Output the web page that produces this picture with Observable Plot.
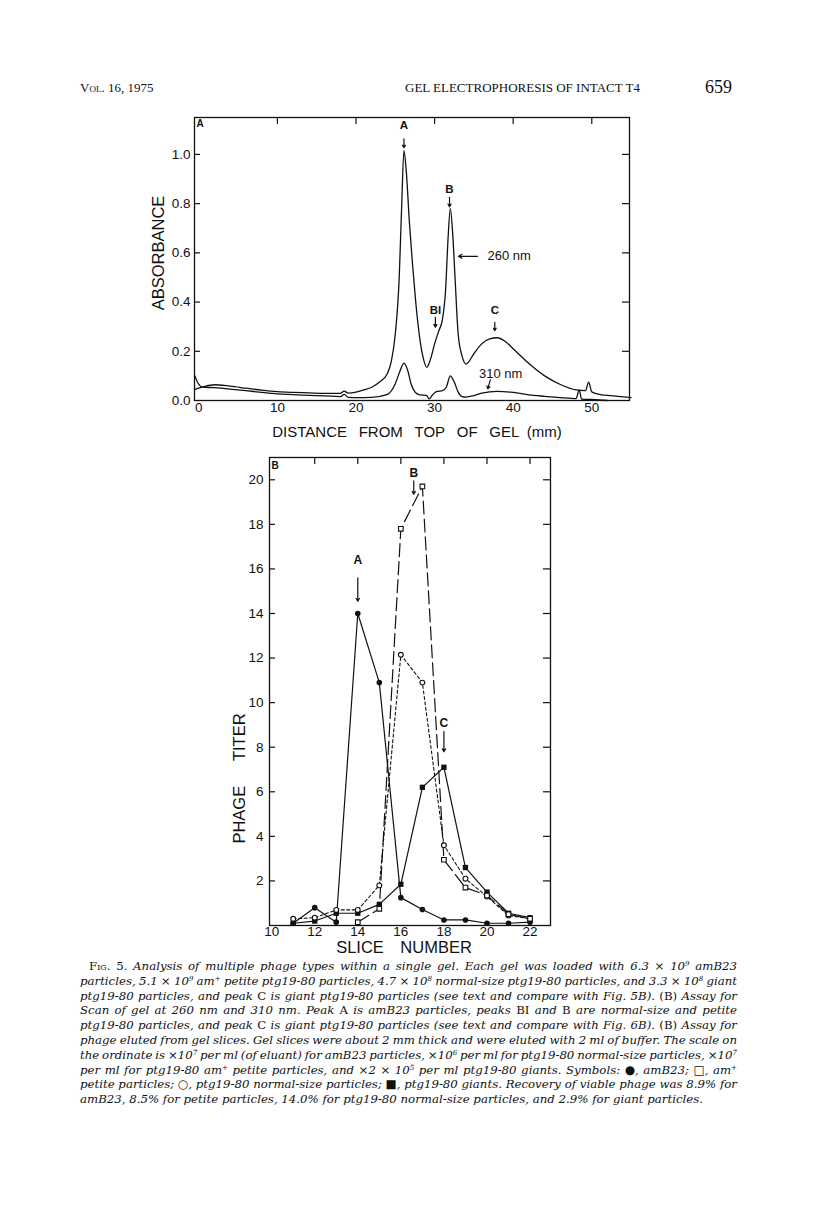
<!DOCTYPE html>
<html><head><meta charset="utf-8">
<script src="https://cdn.jsdelivr.net/npm/d3@7"></script>
<script src="https://cdn.jsdelivr.net/npm/@observablehq/plot@0.6"></script>
<style>
body{margin:0;background:#fff;}
#page{position:relative;width:816px;height:1207px;background:#fff;overflow:hidden;color:#111;}
.hdr{position:absolute;font-family:"Liberation Serif",serif;white-space:nowrap;line-height:1;}
#plotA{position:absolute;left:130px;top:100px;}
#plotB{position:absolute;left:200px;top:440px;}
#cap{position:absolute;left:80px;top:959px;width:657px;font-family:"DejaVu Serif",serif;font-style:italic;font-size:12px;line-height:14.8px;color:#111;}
#cap div{white-space:nowrap;}
#cap sup{font-size:0.6em;line-height:0;vertical-align:0.5em;}
#cap .up{font-style:normal;}
.sc{font-variant:small-caps;font-style:normal;}
</style></head>
<body><div id="page">
<div class="hdr" style="left:80px;top:81px;font-size:13px;"><span style="font-variant:small-caps">Vol. 16, 1975</span></div>
<div class="hdr" style="left:405px;top:81px;font-size:13px;">GEL ELECTROPHORESIS OF INTACT T4</div>
<div class="hdr" style="left:705px;top:78px;font-size:18px;">659</div>
<div id="plotA"></div>
<div id="plotB"></div>
<div id="cap"></div>
</div>
<script>
// ---------- Panel A data (absorbance scan) ----------
const mm260 = [-0.5,0.5,2,4,6,8,10,12,14,16,18,18.5,19,20,21,22,23,24,24.5,25,25.5,25.8,26.1,26.4,26.8,27.2,27.6,28,28.5,29,29.5,30,30.5,31,31.4,31.7,32,32.3,32.6,33,33.5,34,35,36,37,38,39,40,42,44,46,48,49.2,49.6,50,51,53,55];
const abs260 = [0.045,0.055,0.064,0.058,0.050,0.042,0.036,0.033,0.031,0.029,0.029,0.038,0.030,0.034,0.043,0.054,0.075,0.11,0.16,0.27,0.50,0.78,1.015,0.93,0.72,0.55,0.40,0.28,0.18,0.135,0.17,0.23,0.28,0.33,0.45,0.65,0.78,0.68,0.50,0.27,0.18,0.148,0.19,0.23,0.25,0.255,0.24,0.21,0.15,0.10,0.065,0.043,0.040,0.075,0.035,0.025,0.018,0.012];
const mm310 = [-0.5,-0.1,0.5,2,4,6,8,10,12,14,16,18,18.5,19,20,22,24,25,25.6,26.1,26.6,27,27.5,28,29,29.3,29.8,30.3,31,31.5,32,32.5,33,33.5,34,35,36,38,40,42,44,46,48,48.4,48.7,50,52];
const abs310 = [0.10,0.07,0.054,0.052,0.046,0.040,0.033,0.027,0.024,0.021,0.019,0.016,0.025,0.013,0.012,0.013,0.025,0.068,0.12,0.152,0.12,0.068,0.035,0.024,0.020,0.007,0.025,0.037,0.040,0.055,0.10,0.075,0.034,0.016,0.014,0.020,0.030,0.037,0.033,0.023,0.017,0.012,0.008,0.043,0.006,0.004,0.0];
const xTicksA = [0,10,20,30,40,50];
const yTicksA = [0,0.2,0.4,0.6,0.8,1.0];
const peakLabelsA = ["A","B","BI","C"];
const peakXA = [26.1,31.9,30.1,37.66];
const peakYA = [1.117,0.857,0.366,0.366];

// ---------- Panel B data (phage titer per slice) ----------
const slices = [11,12,13,14,15,16,17,18,19,20,21,22];
const amB23 = [0.1,0.8,0.15,14.0,10.9,1.25,0.72,0.25,0.25,0.1,0.1,0.15];
const giants = [0.1,0.2,0.55,0.55,0.95,1.85,6.2,7.1,2.6,1.5,0.55,0.35];
const normalSize = [0.3,0.35,0.7,0.7,1.8,12.15,10.9,3.6,2.1,1.3,0.45,0.3];
const petiteSlices = [14,15,16,17,18,19,20,21,22];
const petite = [0.15,0.75,17.8,19.7,2.95,1.7,1.35,0.5,0.3];
const xTicksB = [10,12,14,16,18,20,22];
const yTicksB = [2,4,6,8,10,12,14,16,18,20];
const peakLabelsB = ["A","B","C"];
const peakXB = [14,16.6,18];
const peakYB = [16.4,20.3,9.1];

const captionLines = [
 '<span class="up">F<span class="sc">ig</span>. 5.</span> Analysis of multiple phage types within a single gel. Each gel was loaded with 6.3 × 10<sup>9</sup> amB23',
 'particles, 5.1 × 10<sup>9</sup> am<sup>+</sup> petite ptg19-80 particles, 4.7 × 10<sup>8</sup> normal-size ptg19-80 particles, and 3.3 × 10<sup>8</sup> giant',
 'ptg19-80 particles, and peak <span class="up">C</span> is giant ptg19-80 particles (see text and compare with Fig. 5B). <span class="up">(B)</span> Assay for',
 'Scan of gel at 260 nm and 310 nm. Peak <span class="up">A</span> is amB23 particles, peaks <span class="up">BI</span> and <span class="up">B</span> are normal-size and petite',
 'ptg19-80 particles, and peak <span class="up">C</span> is giant ptg19-80 particles (see text and compare with Fig. 6B). <span class="up">(B)</span> Assay for',
 'phage eluted from gel slices. Gel slices were about 2 mm thick and were eluted with 2 ml of buffer. The scale on',
 'the ordinate is ×10<sup>7</sup> per ml (of eluant) for amB23 particles, ×10<sup>6</sup> per ml for ptg19-80 normal-size particles, ×10<sup>7</sup>',
 'per ml for ptg19-80 am<sup>+</sup> petite particles, and ×2 × 10<sup>5</sup> per ml ptg19-80 giants. Symbols: <span class="up">●</span>, amB23; <span class="up">□</span>, am<sup>+</sup>',
 'petite particles; <span class="up">○</span>, ptg19-80 normal-size particles; <span class="up">■</span>, ptg19-80 giants. Recovery of viable phage was 8.9% for',
 'amB23, 8.5% for petite particles, 14.0% for ptg19-80 normal-size particles, and 2.9% for giant particles.'
];

// ---------- Build panel A ----------
const s260 = mm260.map((x,i)=>({x, y: abs260[i]}));
const s310 = mm310.map((x,i)=>({x, y: abs310[i]}));
const peaksA = peakLabelsA.map((t,i)=>({t, x: peakXA[i], y: peakYA[i]}));
const WA = 520, HA = 360, mlA = 64, mrA = 21, mtA = 17, mbA = 60;
const fwA = WA - mlA - mrA, fhA = HA - mtA - mbA;
const font = "Liberation Sans, Arial, sans-serif";

const plotA = Plot.plot({
  width: WA, height: HA, marginLeft: mlA, marginRight: mrA, marginTop: mtA, marginBottom: mbA,
  x: {domain: [-0.55, 54.8]},
  y: {domain: [0, 1.15]},
  style: {fontFamily: font, fontSize: "13px", background: "white", color: "#111", overflow: "visible"},
  marks: [
    Plot.frame({stroke: "#111", strokeWidth: 1.3}),
    Plot.axisY({ticks: yTicksA, tickFormat: d3.format(".1f"), tickSize: 0, tickPadding: 4, label: null, fontSize: 13.5}),
    Plot.axisX({ticks: xTicksA, tickSize: 0, tickPadding: 2, label: null, fontSize: 13.5}),
    Plot.tickY(yTicksA.slice(1), {y: d => d, insetRight: fwA - 6, stroke: "#111", strokeWidth: 1.2}),
    Plot.tickY(yTicksA.slice(1), {y: d => d, insetLeft: fwA - 7, stroke: "#111", strokeWidth: 1.2}),
    Plot.tickX(xTicksA.slice(1), {x: d => d, insetBottom: fhA - 7, stroke: "#111", strokeWidth: 1.2}),
    Plot.line(s260, {x: "x", y: "y", curve: "monotone-x", stroke: "#111", strokeWidth: 1.3}),
    Plot.line(s310, {x: "x", y: "y", curve: "monotone-x", stroke: "#111", strokeWidth: 1.3}),
    Plot.text(peaksA, {x: "x", y: "y", text: "t", fontSize: 11.5, fontWeight: "bold", fill: "#111"}),
    Plot.arrow([{x:26.1,y1:1.063,y2:1.027},{x:31.9,y1:0.826,y2:0.787},{x:30.1,y1:0.338,y2:0.298},{x:37.66,y1:0.318,y2:0.284}],
      {x1:"x", x2:"x", y1:"y1", y2:"y2", headLength: 4, strokeWidth: 1.2, stroke: "#111"}),
    Plot.arrow([{x1:35.46,x2:33.04,y:0.586}], {x1:"x1", x2:"x2", y1:"y", y2:"y", headLength: 5, strokeWidth: 1.2, stroke: "#111"}),
    Plot.text([{x:36.73,y:0.586,t:"260 nm"}], {x:"x", y:"y", text:"t", textAnchor:"start", fontSize: 13, fill:"#111"}),
    Plot.text([{x:38.4,y:0.108,t:"310 nm"}], {x:"x", y:"y", text:"t", fontSize: 13, fill:"#111"}),
    Plot.arrow([{x1:37.1,y1:0.084,x2:36.75,y2:0.047}], {x1:"x1", x2:"x2", y1:"y1", y2:"y2", headLength: 4, strokeWidth: 1.2, stroke: "#111"}),
    Plot.text(["A"], {frameAnchor: "top-left", dx: 2, dy: 2, textAnchor: "start", lineAnchor: "top", fontSize: 10, fontWeight: "bold", fill: "#111"}),
    Plot.text(["ABSORBANCE"], {frameAnchor: "left", dx: -36, dy: -6, rotate: -90, textAnchor: "middle", lineAnchor: "middle", fontSize: 16.5, fill: "#111"}),
    Plot.text(["DISTANCE\u2002\u00a0FROM\u2002\u00a0TOP\u2002\u00a0OF\u2002\u00a0GEL\u2002(mm)"], {frameAnchor: "bottom", dx: 5, dy: 31.5, textAnchor: "middle", lineAnchor: "middle", fontSize: 15, fill: "#111"})
  ]
});
document.getElementById("plotA").appendChild(plotA);

// ---------- Build panel B ----------
const rec = (xs, ys) => xs.map((x,i)=>({x, y: ys[i]}));
const dA = rec(slices, amB23), dG = rec(slices, giants), dN = rec(slices, normalSize), dP = rec(petiteSlices, petite);
const peaksB = peakLabelsB.map((t,i)=>({t, x: peakXB[i], y: peakYB[i]}));
const WB = 370, HB = 520, mlB = 69, mrB = 20, mtB = 17, mbB = 35;
const fwB = WB - mlB - mrB, fhB = HB - mtB - mbB;

const plotB = Plot.plot({
  width: WB, height: HB, marginLeft: mlB, marginRight: mrB, marginTop: mtB, marginBottom: mbB,
  x: {domain: [9.9, 22.95]},
  y: {domain: [0, 21]},
  style: {fontFamily: font, fontSize: "13px", background: "white", color: "#111", overflow: "visible"},
  marks: [
    Plot.frame({stroke: "#111", strokeWidth: 1.3}),
    Plot.axisY({ticks: yTicksB, tickSize: 0, tickPadding: 6, label: null, fontSize: 13.5}),
    Plot.axisX({ticks: xTicksB, tickSize: 0, tickPadding: 1, label: null, fontSize: 13.5}),
    Plot.tickY(yTicksB, {y: d => d, insetRight: fwB - 6, stroke: "#111", strokeWidth: 1.2}),
    Plot.tickY(yTicksB, {y: d => d, insetLeft: fwB - 7, stroke: "#111", strokeWidth: 1.2}),
    Plot.tickX(xTicksB.slice(1), {x: d => d, insetBottom: fhB - 7, stroke: "#111", strokeWidth: 1.2}),
    Plot.line(dA, {x: "x", y: "y", stroke: "#111", strokeWidth: 1.2}),
    Plot.line(dG, {x: "x", y: "y", stroke: "#111", strokeWidth: 1.2}),
    Plot.line(dN, {x: "x", y: "y", stroke: "#111", strokeWidth: 1.1, strokeDasharray: "3,2.5"}),
    Plot.line(dP, {x: "x", y: "y", stroke: "#111", strokeWidth: 1.2, strokeDasharray: "13,5"}),
    Plot.dot(dA, {x: "x", y: "y", r: 2.8, fill: "#111"}),
    Plot.dot(dG, {x: "x", y: "y", r: 3, symbol: "square", fill: "#111"}),
    Plot.dot(dN, {x: "x", y: "y", r: 2.4, fill: "white", stroke: "#111", strokeWidth: 1.1}),
    Plot.dot(dP, {x: "x", y: "y", r: 2.6, symbol: "square", fill: "white", stroke: "#111", strokeWidth: 1.1}),
    Plot.text(peaksB, {x: "x", y: "y", text: "t", fontSize: 12, fontWeight: "bold", fill: "#111"}),
    Plot.arrow([{x:14,y1:15.6,y2:14.55},{x:16.6,y1:19.95,y2:19.35},{x:18,y1:8.7,y2:7.8}],
      {x1:"x", x2:"x", y1:"y1", y2:"y2", headLength: 4, strokeWidth: 1.2, stroke: "#111"}),
    Plot.text(["B"], {frameAnchor: "top-left", dx: 2, dy: 4, textAnchor: "start", lineAnchor: "top", fontSize: 10, fontWeight: "bold", fill: "#111"}),
    Plot.text(["PHAGE\u2002\u2002\u2002TITER"], {frameAnchor: "left", dx: -30, dy: 87, rotate: -90, textAnchor: "middle", lineAnchor: "middle", fontSize: 16.5, fill: "#111"}),
    Plot.text(["SLICE\u2002\u2002NUMBER"], {frameAnchor: "bottom", dx: -6, dy: 22, textAnchor: "middle", lineAnchor: "middle", fontSize: 16.5, fill: "#111"})
  ]
});
document.getElementById("plotB").appendChild(plotB);

// ---------- caption, justified line by line ----------
const CAPW = 657, LASTW = 623, INDENT = 9;
const cap = document.getElementById("cap");
const spans = captionLines.map((h,i)=>{
  const d = document.createElement("div");
  const s = document.createElement("span");
  s.innerHTML = h;
  d.appendChild(s);
  if (i === 0) d.style.paddingLeft = INDENT + "px";
  cap.appendChild(d);
  return s;
});
const base = 12;
const wLast = spans[spans.length-1].getBoundingClientRect().width;
const fs = base * LASTW / wLast;
cap.style.fontSize = fs + "px";
spans.forEach((s,i)=>{
  if (i === spans.length - 1) return;
  const w = s.getBoundingClientRect().width;
  const n = (s.textContent.match(/ /g) || []).length;
  const avail = CAPW - (i === 0 ? INDENT : 0);
  s.style.wordSpacing = ((avail - w) / n) + "px";
});
</script>
</body></html>
